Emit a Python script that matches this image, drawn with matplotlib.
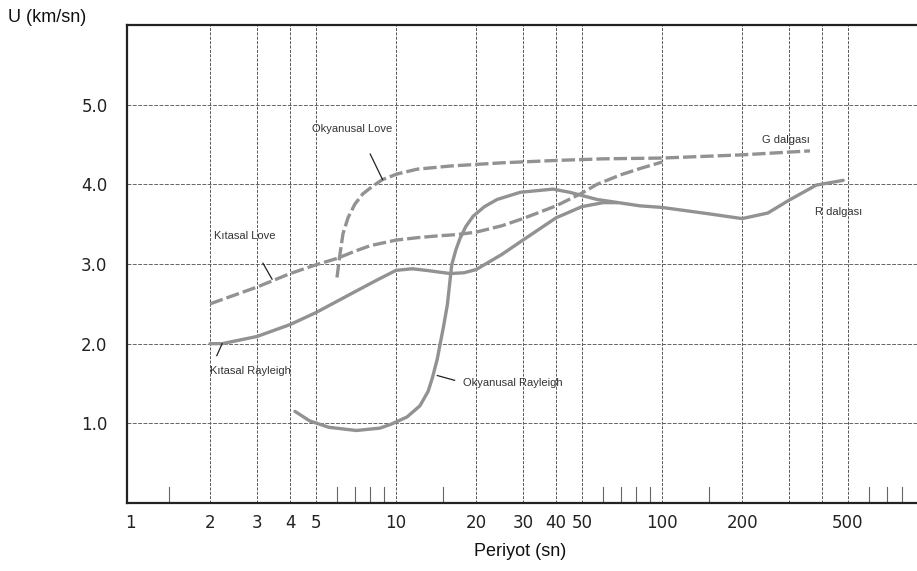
import matplotlib
matplotlib.use('Agg')
import matplotlib.pyplot as plt
import numpy as np

# --- data (period in s, group velocity in km/s) ---
kitasal_love_x = [2, 3, 4, 5, 6, 7, 8, 10, 12, 14, 17, 20, 25, 30, 40, 50, 57, 70, 83, 100]
kitasal_love_y = [2.5, 2.71, 2.88, 2.99, 3.07, 3.16, 3.23, 3.3, 3.33, 3.35, 3.37, 3.4, 3.48, 3.57, 3.73, 3.89, 4.0, 4.12, 4.2, 4.28]

okyanusal_love_x = [6.0, 6.16, 6.32, 6.6, 7.0, 7.5, 8.2, 8.9, 10.1, 12, 16, 25, 40, 60, 100, 200, 360]
okyanusal_love_y = [2.83, 3.13, 3.38, 3.58, 3.75, 3.88, 3.98, 4.06, 4.13, 4.19, 4.23, 4.27, 4.3, 4.32, 4.33, 4.37, 4.42]

kitasal_rayleigh_x = [2, 2.22, 3, 4, 5, 6.9, 8.5, 10, 11.5, 13, 16, 18, 20, 25, 30, 40, 50, 60, 68]
kitasal_rayleigh_y = [2.0, 2.0, 2.09, 2.24, 2.39, 2.64, 2.8, 2.92, 2.94, 2.92, 2.88, 2.89, 2.93, 3.12, 3.3, 3.58, 3.72, 3.77, 3.77]

okyanusal_rayleigh_x = [4.17, 4.74, 5.6, 7.1, 8.7, 9.6, 11, 12.3, 13.2, 13.7, 14.3, 14.6, 15.1, 15.6, 16.2, 16.8, 17.4,
                        18.3, 19.5, 21.5, 24, 29.3, 38.9, 45, 57, 82.6, 100, 150, 200, 250, 300, 380, 480]
okyanusal_rayleigh_y = [1.15, 1.03, 0.95, 0.91, 0.94, 0.99, 1.08, 1.22, 1.4, 1.57, 1.81, 1.97, 2.22, 2.49, 2.99, 3.18, 3.32,
                        3.47, 3.6, 3.72, 3.81, 3.9, 3.94, 3.9, 3.81, 3.73, 3.71, 3.63, 3.57, 3.64, 3.8, 3.99, 4.05]

x_grid = [2, 3, 4, 5, 10, 20, 30, 40, 50, 100, 200, 300, 400, 500]
y_grid = [1, 2, 3, 4, 5]
x_ticks = [1, 2, 3, 4, 5, 10, 20, 30, 40, 50, 100, 200, 500]
y_ticks = [1, 2, 3, 4, 5]
y_ticklabels = ['1.0', '2.0', '3.0', '4.0', '5.0']
x_minor = [1.4, 6, 7, 8, 9, 15, 60, 70, 80, 90, 150, 600, 700, 800]

fig = plt.figure(figsize=(9.17, 5.71), dpi=100)
ax = fig.add_axes([127 / 917, 68 / 571, 790 / 917, 478 / 571])

ax.set_xscale('log')
ax.set_xlim(10 ** (-3 / 266), 10 ** (787 / 266))
ax.set_ylim(0, 6.0)

for gx in x_grid:
    ax.axvline(gx, color='#555555', lw=0.7, ls=(0, (3, 1.5)), zorder=1)
for gy in y_grid:
    ax.axhline(gy, color='#666666', lw=0.7, ls=(0, (4, 1.5)), zorder=1)

curve_col = '#929292'
style = dict(color=curve_col, lw=2.4, zorder=3, solid_joinstyle='round', solid_capstyle='round',
             dash_joinstyle='round')
ax.plot(kitasal_love_x, kitasal_love_y, ls=(0, (4, 1.2)), **style)
ax.plot(okyanusal_love_x, okyanusal_love_y, ls=(0, (4, 1.2)), **style)
ax.plot(kitasal_rayleigh_x, kitasal_rayleigh_y, **style)
ax.plot(okyanusal_rayleigh_x, okyanusal_rayleigh_y, **style)

# small short marks along the bottom axis
for mx in x_minor:
    ax.plot([mx, mx], [0, 0.2], color='#666666', lw=0.8, zorder=2)

ax.set_xticks(x_ticks)
ax.set_xticklabels([str(t) for t in x_ticks])
ax.set_xticks([], minor=True)
ax.set_yticks(y_ticks)
ax.set_yticklabels(y_ticklabels)
ax.tick_params(axis='both', length=0, labelsize=12, colors='#222222')
ax.tick_params(axis='x', pad=8)
ax.tick_params(axis='y', pad=14)

for side in ['left', 'bottom', 'top']:
    ax.spines[side].set_linewidth(1.6)
    ax.spines[side].set_color('#222222')
ax.spines['right'].set_visible(False)

lab = dict(fontsize=8, family='Liberation Sans', color='#333333')
ax.text(6.83, 4.7, 'Okyanusal Love', ha='center', va='center', **lab)
ax.plot([8.0, 8.9], [4.38, 4.06], color='#222222', lw=0.9, zorder=4)
ax.text(2.7, 3.35, 'Kıtasal Love', ha='center', va='center', **lab)
ax.plot([3.16, 3.42], [3.01, 2.81], color='#222222', lw=0.9, zorder=4)
ax.text(2.83, 1.66, 'Kıtasal Rayleigh', ha='center', va='center', **lab)
ax.plot([2.12, 2.22], [1.85, 2.0], color='#222222', lw=0.9, zorder=4)
ax.text(17.9, 1.51, 'Okyanusal Rayleigh', ha='left', va='center', **lab)
ax.plot([14.3, 16.6], [1.6, 1.54], color='#222222', lw=0.9, zorder=4)
ax.text(292, 4.56, 'G dalgası', ha='center', va='center', **lab)
ax.text(376, 3.65, 'R dalgası', ha='left', va='center', **lab)

fig.text(8 / 917, 1 - 18 / 571, 'U (km/sn)', ha='left', va='center', fontsize=13,
         family='Liberation Sans', color='#111111')
fig.text(520 / 917, 1 - 551 / 571, 'Periyot (sn)', ha='center', va='center', fontsize=13,
         family='Liberation Sans', color='#111111')

fig.savefig('out.png', dpi=100)
